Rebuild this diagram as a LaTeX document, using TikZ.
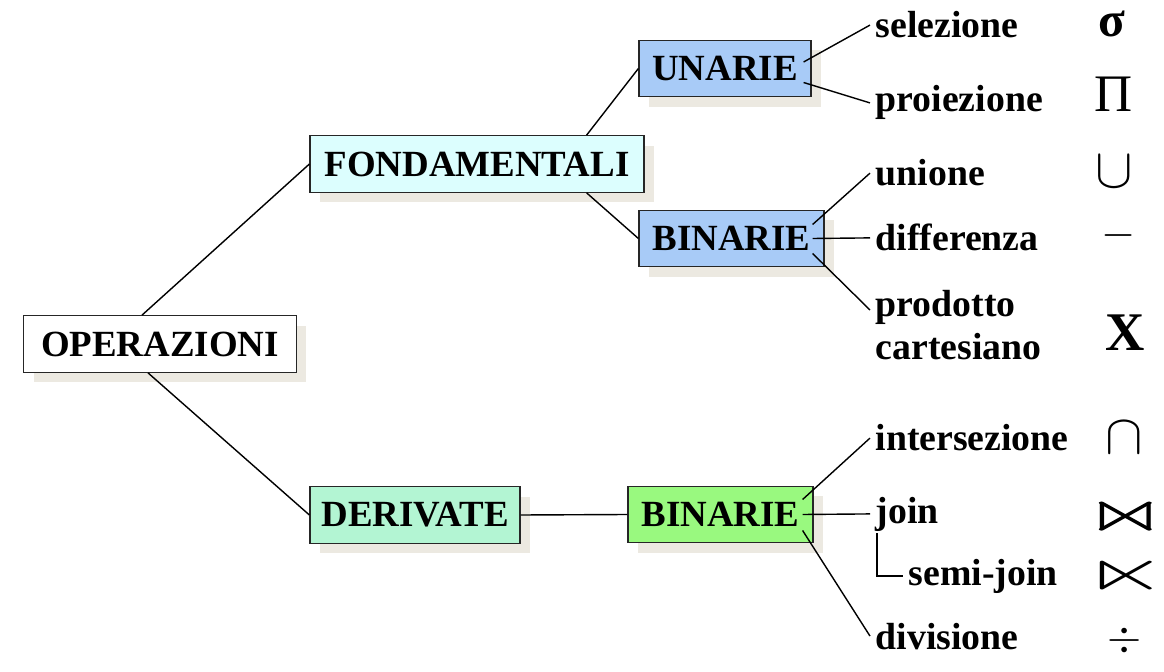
\RequirePackage{fix-cm}
\documentclass[tikz,border=0pt]{standalone}
\usepackage{fontspec}
\setmainfont{Liberation Serif}
\usepackage{amsmath}
\usepackage{amssymb}
\usepackage{graphicx}
\usetikzlibrary{shadows}
\definecolor{shadowgray}{HTML}{ECE9E1}
\definecolor{cyanbox}{HTML}{DCFEFE}
\definecolor{bluebox}{HTML}{A8CBF7}
\definecolor{mintbox}{HTML}{B3F5D3}
\definecolor{greenbox}{HTML}{99F97F}

\begin{document}
\begin{tikzpicture}[x=0.02cm,y=-0.02cm,
	box/.style={draw=black!85,line width=0.7pt,minimum height=1.13cm,inner sep=0pt,
		font=\fontsize{21}{24}\selectfont\bfseries,
		drop shadow={shadow xshift=0.2cm,shadow yshift=-0.2cm,fill=shadowgray,opacity=1}},
	op/.style={anchor=base west,inner xsep=3pt,inner ysep=1pt,font=\fontsize{21.5}{24.4}\selectfont\bfseries},
	sym/.style={inner sep=0pt,font=\fontsize{#1}{#1}\selectfont},
	sym/.default=25,
	link/.style={line width=0.8pt}]
	\useasboundingbox (0,0) rectangle (1164,672);
	% draw boxes
	\node[box,fill=white,minimum width=5.46cm] (operazioni) at (160,344) {OPERAZIONI};
	\node[box,fill=cyanbox,minimum width=6.68cm] (fond) at (477,164) {FONDAMENTALI};
	\node[box,fill=mintbox,minimum width=4.2cm] (derivate) at (415,515) {DERIVATE};
	\node[box,fill=bluebox,minimum width=3.44cm] (unarie) at (725,68.5) {UNARIE};
	\node[box,fill=bluebox,minimum width=3.7cm] (binb) at (731.5,238.5) {BINARIE};
	\node[box,fill=greenbox,minimum width=3.7cm] (bing) at (720.5,514.5) {BINARIE};
	% operation names
	\node[op] (sel) at (870,38) {selezione};
	\node[op] (proj) at (870,112) {proiezione};
	\node[op] (union) at (870,186) {unione};
	\node[op] (diff) at (870,251) {differenza};
	\node[op,anchor=west,align=left] (prod) at (870,325) {prodotto\\cartesiano};
	\node[op] (inter) at (870,451) {intersezione};
	\node[op] (join) at (870,523) {join};
	\node[op] (semijoin) at (903,585) {semi-join};
	\node[op] (div) at (870,649) {divisione};
	% operator symbols
	\node[sym=28] (ssel) at (1112,24) {\bfseries σ};
	\node[sym=30] (sproj) at (1114,94) {Π};
	\node[sym=32] (sunion) at (1114,172) {$\cup$};
	\node[sym] (sdiff) at (1119,236) {$-$};
	\node[sym=31] (sprod) at (1125,333) {\bfseries X};
	\node[sym=32] (sinter) at (1124,438) {$\cap$};
	\node[sym=34] (sjoin) at (1126,517) {\scalebox{1.8}[1]{$\Join$}};
	\node[sym=34] (ssemi) at (1126,576) {\scalebox{1.8}[1]{$\ltimes$}};
	\node[sym] (sdiv) at (1125,641) {$\div$};
	% draw tree
	\draw[link] ([xshift=-0.36cm]operazioni.north) -- (fond.west);
	\draw[link] ([xshift=-0.24cm]operazioni.south) -- (derivate.west);
	\draw[link] ([xshift=-1.16cm]fond.north east) -- (unarie.west);
	\draw[link] ([xshift=-1.16cm]fond.south east) -- (binb.west);
	\draw[link] (derivate.east) -- (bing.west);
	% draw leaves
	\draw[link] ([xshift=-0.16cm,yshift=0.13cm]unarie.east) -- (sel.west);
	\draw[link] ([xshift=-0.16cm,yshift=-0.28cm]unarie.east) -- (proj.west);
	\draw[link] ([xshift=-0.24cm,yshift=0.28cm]binb.east) -- (union.west);
	\draw[link] ([xshift=-0.24cm]binb.east) -- (diff.west);
	\draw[link] ([xshift=-0.24cm,yshift=-0.3cm]binb.east) -- ([yshift=0.3cm]prod.west);
	\draw[link] ([xshift=-0.22cm,yshift=0.3cm]bing.east) -- (inter.west);
	\draw[link] ([xshift=-0.22cm]bing.east) -- (join.west);
	\draw[link] ([xshift=-0.22cm,yshift=-0.32cm]bing.east) -- (div.west);
	\draw[link] ([xshift=0.14cm]join.south west) |- (semijoin.west);
\end{tikzpicture}
\end{document}
